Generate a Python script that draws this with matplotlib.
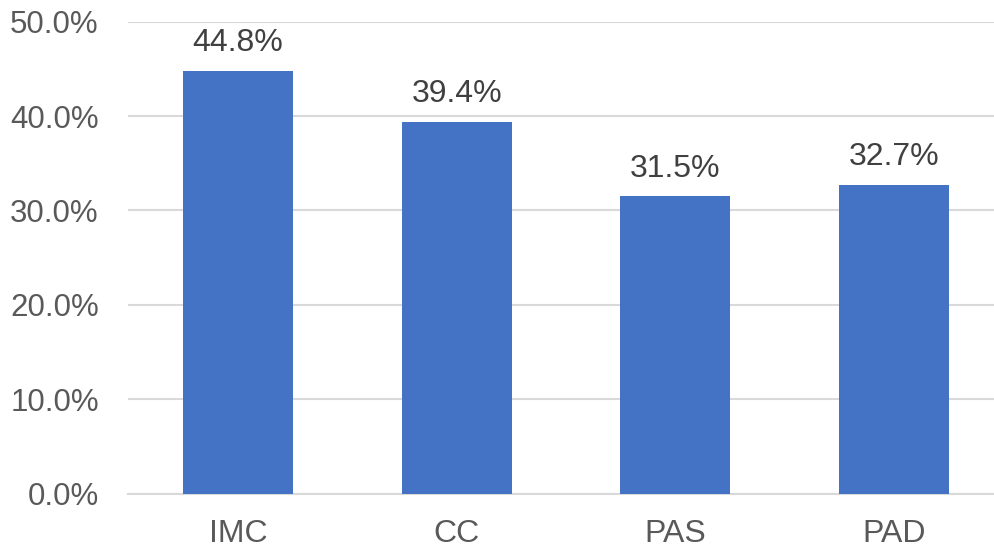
import matplotlib.pyplot as plt
import numpy as np

categories = ["IMC", "CC", "PAS", "PAD"]
values = [44.8, 39.4, 31.5, 32.7]
yticks = [0, 10, 20, 30, 40, 50]

plt.rcParams['font.family'] = ['Liberation Sans', 'DejaVu Sans']

fig = plt.figure(figsize=(9.94, 5.47), dpi=100)
ax = fig.add_axes([128 / 994, 1 - 493.5 / 547, 866 / 994, (493.5 - 21.7) / 547])

x = np.arange(len(categories))
bars = ax.bar(x, values, width=0.503, color="#4472C4", zorder=3)

for b, v in zip(bars, values):
    ax.annotate(f"{v:.1f}%", (b.get_x() + b.get_width() / 2, v),
                xytext=(0, 9), textcoords="offset points",
                ha="center", va="bottom", fontsize=23, color="#404040")

ax.set_xlim(-0.503, 3.457)
ax.set_ylim(0, 50)
ax.set_yticks(yticks)
ax.set_yticklabels([f"{t:.1f}%" for t in yticks])
ax.set_xticks(x)
ax.set_xticklabels(categories)
ax.tick_params(axis="y", length=0, pad=21, labelsize=22.5, labelcolor="#595959")
ax.tick_params(axis="x", length=0, pad=18, labelsize=23, labelcolor="#595959")

ax.grid(axis="y", color="#d9d9d9", linewidth=1.5, zorder=0)
ax.set_axisbelow(True)
for s in ["top", "right", "left"]:
    ax.spines[s].set_visible(False)
ax.spines["bottom"].set_color("#d9d9d9")
ax.spines["bottom"].set_linewidth(1.5)

fig.savefig("out.png", dpi=100)
